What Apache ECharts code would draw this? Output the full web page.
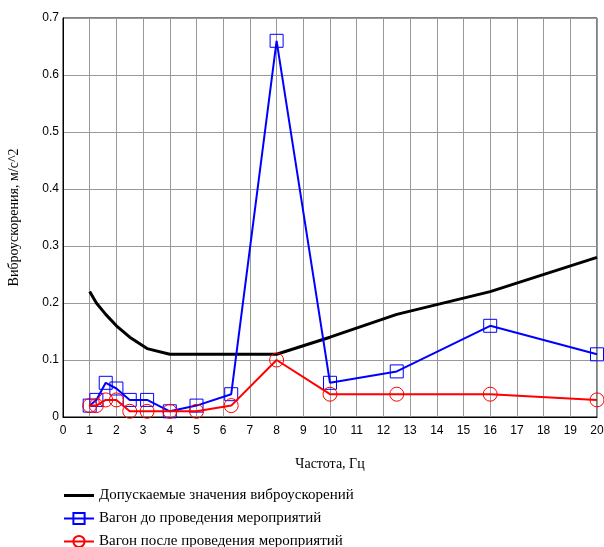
<!DOCTYPE html>
<html>
<head>
<meta charset="utf-8">
<script src="https://cdn.jsdelivr.net/npm/echarts@6/dist/echarts.min.js"></script>
<style>
  html, body { margin: 0; padding: 0; background: #fff; }
  #chart { width: 604px; height: 547px; }
</style>
</head>
<body>
<div id="chart"></div>
<script>
// частоты (1/3 октавы), Гц
const freqs = [1, 1.25, 1.6, 2, 2.5, 3.15, 4, 5, 6.3, 8, 10, 12.5, 16, 20];
// допускаемые значения
const limitValues = [0.22, 0.2, 0.18, 0.16, 0.14, 0.12, 0.11, 0.11, 0.11, 0.11, 0.14, 0.18, 0.22, 0.28];
// вагон до мероприятий
const beforeValues = [0.02, 0.03, 0.06, 0.05, 0.03, 0.03, 0.01, 0.02, 0.04, 0.66, 0.06, 0.08, 0.16, 0.11];
// вагон после мероприятий
const afterValues = [0.02, 0.02, 0.03, 0.03, 0.01, 0.01, 0.01, 0.01, 0.02, 0.1, 0.04, 0.04, 0.04, 0.03];

const seriesNames = [
    'Допускаемые значения виброускорений',
    'Вагон до проведения мероприятий',
    'Вагон после проведения мероприятий'
];

function pairs(values) {
    return freqs.map((f, i) => [f, values[i]]);
}

const chart = echarts.init(document.getElementById('chart'));
const serif = '"Liberation Serif", "DejaVu Serif", serif';
const sans = '"Liberation Sans", Arial, sans-serif';

const option = {
    animation: false,
    backgroundColor: '#fff',
    grid: {
        left: 63,
        right: 7,
        top: 18,
        bottom: 130,
        outerBoundsMode: 'none',
        containLabel: false,
        show: true,
        borderColor: '#000',
        borderWidth: 1
    },
    legend: {
        orient: 'vertical',
        left: 63,
        top: 488,
        height: 80,
        padding: 0,
        itemWidth: 30,
        itemHeight: 14,
        itemGap: 8,
        textStyle: { fontFamily: serif, fontSize: 15, color: '#000' },
        data: [
            { name: seriesNames[0], icon: 'path://M0,0 L30,0 L30,3 L0,3 Z' },
            seriesNames[1],
            seriesNames[2]
        ]
    },
    xAxis: {
        type: 'value',
        min: 0,
        max: 20,
        interval: 1,
        name: 'Частота, Гц',
        nameLocation: 'middle',
        nameGap: 40,
        nameTextStyle: { fontFamily: serif, fontSize: 14, color: '#000' },
        axisLine: { lineStyle: { color: '#000' } },
        axisTick: { show: false },
        axisLabel: { fontFamily: sans, fontSize: 12, color: '#000', margin: 8 },
        splitLine: { lineStyle: { color: '#999', width: 1 } }
    },
    yAxis: {
        type: 'value',
        min: 0,
        max: 0.7,
        interval: 0.1,
        name: 'Виброускорения, м/с^2',
        nameLocation: 'middle',
        nameRotate: 90,
        nameGap: 42,
        nameTextStyle: { fontFamily: serif, fontSize: 14, color: '#000' },
        axisLine: { show: true, lineStyle: { color: '#000' } },
        axisTick: { show: false },
        axisLabel: {
            fontFamily: sans, fontSize: 12, color: '#000', margin: 4,
            formatter: v => (v === 0 ? '0' : v.toFixed(1))
        },
        splitLine: { lineStyle: { color: '#999', width: 1 } }
    },
    series: [
        {
            name: seriesNames[0],
            type: 'line',
            data: pairs(limitValues),
            symbol: 'none',
            itemStyle: { color: '#000' },
            lineStyle: { color: '#000', width: 3 },
            z: 3
        },
        {
            name: seriesNames[1],
            type: 'line',
            data: pairs(beforeValues),
            symbol: 'rect',
            symbolSize: 13,
            itemStyle: { color: 'transparent', borderColor: '#0000ff', borderWidth: 1 },
            lineStyle: { color: '#0000ff', width: 2 },
            z: 4
        },
        {
            name: seriesNames[2],
            type: 'line',
            data: pairs(afterValues),
            symbol: 'circle',
            symbolSize: 14,
            itemStyle: { color: 'transparent', borderColor: '#ff0000', borderWidth: 1 },
            lineStyle: { color: '#ff0000', width: 2 },
            z: 5
        }
    ]
};
chart.setOption(option);
</script>
</body>
</html>
